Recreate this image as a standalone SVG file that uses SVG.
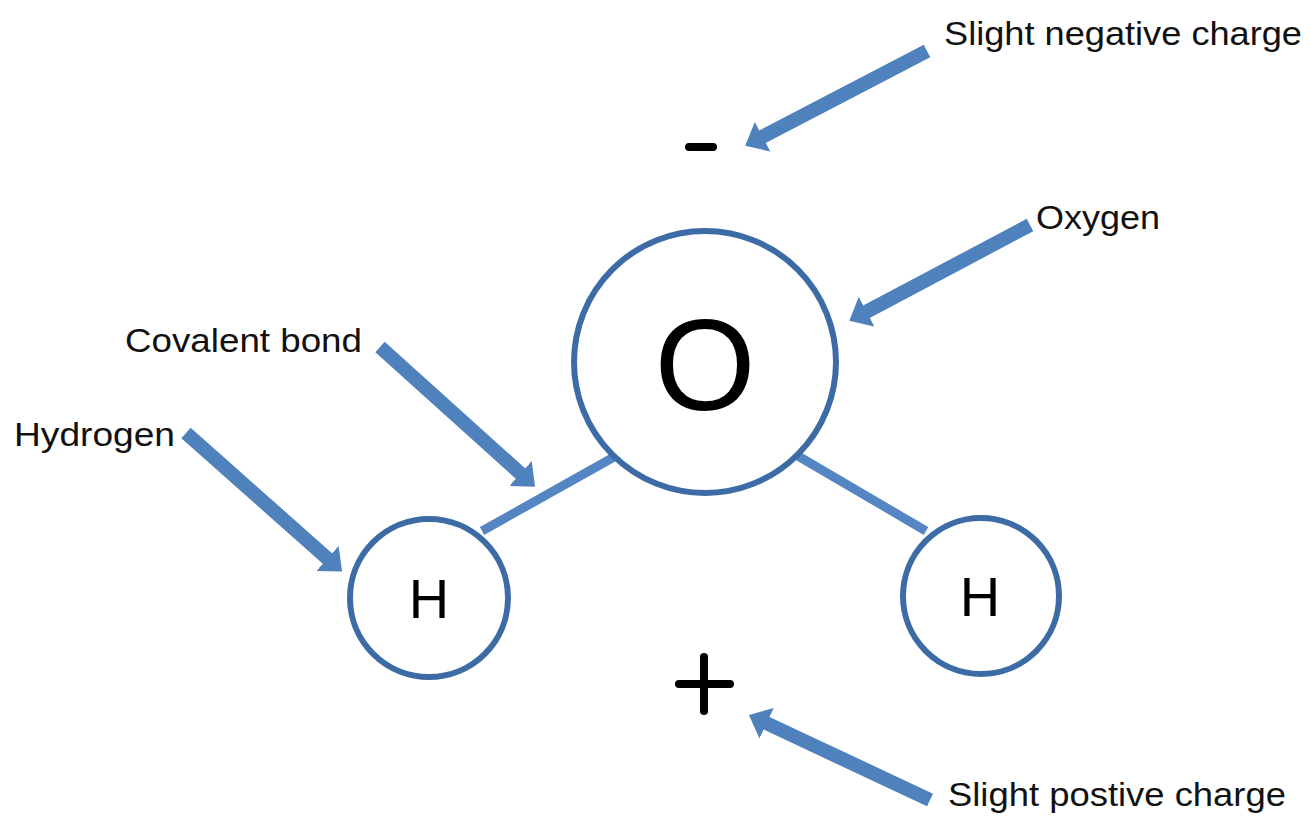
<svg xmlns="http://www.w3.org/2000/svg" width="1310" height="816" viewBox="0 0 1310 816">
<style>
.atom{fill:#fff;stroke:#3d6ba6;stroke-width:6}
.bond{stroke:#5586c3;stroke-width:9;fill:none}
.arr{stroke:#4f81bd;stroke-width:14;fill:none;marker-end:url(#head)}
.lbl{font-family:"Liberation Sans",Arial,sans-serif;font-size:34px;fill:#111}
.sym{font-family:"Liberation Sans",Arial,sans-serif;fill:#000;text-anchor:middle}
.sign{stroke:#000;stroke-width:8;stroke-linecap:round;fill:none}
</style>
<defs>
<marker id="head" markerUnits="strokeWidth" viewBox="0 0 1.4 2.4" refX="0.05" refY="1.2" markerWidth="1.4" markerHeight="2.4" orient="auto">
<path d="M0,0 L1.4,1.2 L0,2.4 z" fill="#4f81bd"/>
</marker>
</defs>
<rect width="1310" height="816" fill="#fff"/>
<g id="connectors">
<line class="bond" x1="482" y1="531" x2="614" y2="457"/>
<line class="bond" x1="798" y1="456" x2="926" y2="531"/>
<line class="arr" x1="927" y1="51" x2="762" y2="137"/>
<line class="arr" x1="1030" y1="225" x2="866" y2="312"/>
<line class="arr" x1="380" y1="347" x2="521" y2="474"/>
<line class="arr" x1="186" y1="433" x2="328" y2="559"/>
<line class="arr" x1="930" y1="800" x2="766" y2="723"/>
</g>
<g id="oxygen">
<circle class="atom" cx="705" cy="362" r="131"/>
<text class="sym" x="705" y="410" font-size="130">O</text>
</g>
<g id="hydrogen-left">
<circle class="atom" cx="429" cy="598" r="79"/>
<text class="sym" x="429" y="618" font-size="56">H</text>
</g>
<g id="hydrogen-right">
<circle class="atom" cx="981" cy="596" r="78"/>
<text class="sym" x="980" y="616" font-size="56">H</text>
</g>
<g id="minus"><line class="sign" x1="689" y1="147" x2="713" y2="147"/></g>
<g id="plus"><line class="sign" x1="679" y1="684" x2="730" y2="684"/><line class="sign" x1="704" y1="657" x2="704" y2="711"/></g>
<g id="label-neg"><text class="lbl" x="944" y="45" textLength="358" lengthAdjust="spacingAndGlyphs">Slight negative charge</text></g>
<g id="label-oxygen"><text class="lbl" x="1036" y="229" textLength="124" lengthAdjust="spacingAndGlyphs">Oxygen</text></g>
<g id="label-covalent"><text class="lbl" x="125" y="352" textLength="237" lengthAdjust="spacingAndGlyphs">Covalent bond</text></g>
<g id="label-hydrogen"><text class="lbl" x="14" y="446" textLength="161" lengthAdjust="spacingAndGlyphs">Hydrogen</text></g>
<g id="label-pos"><text class="lbl" x="948" y="806" textLength="338" lengthAdjust="spacingAndGlyphs">Slight postive charge</text></g>
</svg>
